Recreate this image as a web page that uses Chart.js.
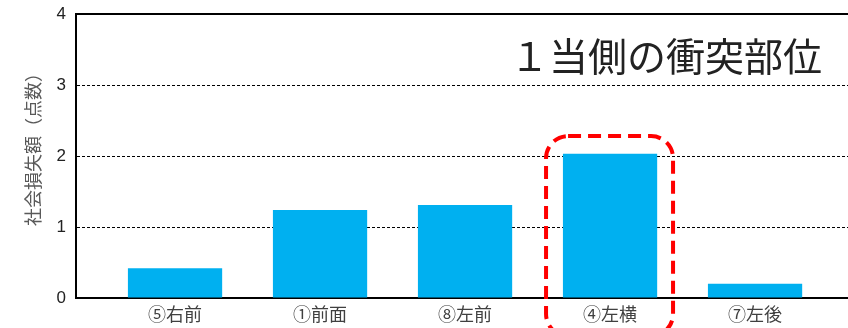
<!DOCTYPE html>
<html>
<head>
<meta charset="utf-8">
<script src="https://cdn.jsdelivr.net/npm/chart.js@4/dist/chart.umd.min.js"></script>
<style>
  html, body { margin: 0; padding: 0; background: #fff; }
  #wrap { width: 848px; height: 328px; }
</style>
</head>
<body>
<div id="wrap"><canvas id="impactChart"></canvas></div>
<script>
const positions = ["⑤右前", "①前面", "⑧左前", "④左横", "⑦左後"]
const lossScores = [0.42, 1.24, 1.31, 2.03, 0.2]
const yTicks = [0, 1, 2, 3, 4]
const chartTitle = "１当側の衝突部位"
const yTitle = "社会損失額（点数）"
const highlightIndex = 3

const jpFont = "'Noto Sans CJK JP', 'Noto Sans', sans-serif"

// headline inside the plot area plus the rotated y-axis caption
const captions = {
    id: "captions",
    afterDraw(chart) {
        const ctx = chart.ctx
        const area = chart.chartArea
        ctx.save()
        ctx.font = "39px " + jpFont
        ctx.fillStyle = "#222"
        ctx.textBaseline = "middle"
        ctx.fillText(chartTitle, area.left + 434, area.top + 42)

        ctx.translate(33, area.top + 131)
        ctx.rotate(-Math.PI / 2)
        ctx.font = "18px " + jpFont
        ctx.fillStyle = "#595959"
        ctx.textAlign = "center"
        ctx.fillText(yTitle, 0, 0)
        ctx.restore()
    }
}

// red dashed box around the highlighted position
const highlightBox = {
    id: "highlightBox",
    afterDraw(chart) {
        const ctx = chart.ctx
        const x = chart.scales.x.getPixelForValue(highlightIndex)
        const top = chart.scales.y.getPixelForValue(lossScores[highlightIndex] + 0.25)
        ctx.save()
        ctx.strokeStyle = "#ff0000"
        ctx.lineWidth = 4
        ctx.setLineDash([13, 7])
        ctx.beginPath()
        ctx.roundRect(x - 64, top, 127, 200, 22)
        ctx.stroke()
        ctx.restore()
    }
}

new Chart(document.getElementById("impactChart").getContext("2d"), {
    type: "bar",
    data: {
        datasets: [
            {
                label: yTitle,
                data: lossScores.map((v, i) => ({ x: i, y: v })),
                backgroundColor: "#00b0f0",
                borderWidth: 0,
                barPercentage: 0.65,
                categoryPercentage: 1
            }
        ]
    },
    options: {
        responsive: true,
        maintainAspectRatio: false,
        animation: false,
        layout: { padding: { left: 0, top: 14, right: 0, bottom: 0 } },
        plugins: {
            legend: { display: false },
            tooltip: { enabled: false }
        },
        scales: {
            x: {
                type: "linear",
                offset: false,
                min: -0.683,
                max: 4.641,
                afterBuildTicks: scale => { scale.ticks = positions.map((p, i) => ({ value: i })) },
                afterFit: scale => { scale.height = 30 },
                grid: { display: false, drawTicks: false, offset: false },
                border: { display: true, color: "#000", width: 2 },
                ticks: {
                    padding: 5,
                    color: "#404040",
                    font: { family: jpFont, size: 18 },
                    callback: v => positions[v] ?? ""
                }
            },
            xTop: {
                type: "linear",
                position: "top",
                offset: false,
                afterFit: scale => { scale.height = 0; scale.paddingLeft = 0; scale.paddingRight = 0 },
                grid: { display: false, drawTicks: false },
                border: { display: true, color: "#000", width: 2 },
                ticks: { display: false }
            },
            y: {
                min: 0,
                max: 4,
                afterBuildTicks: scale => { scale.ticks = yTicks.map(v => ({ value: v })) },
                afterFit: scale => { scale.width = 76; scale.paddingTop = 0; scale.paddingBottom = 0 },
                grid: {
                    drawTicks: false,
                    lineWidth: 1,
                    color: c => (c.tick && (c.tick.value === 0 || c.tick.value === 4)) ? "rgba(0,0,0,0)" : "#000"
                },
                border: { display: true, color: "#000", width: 2, dash: [3, 2] },
                ticks: {
                    padding: 10,
                    color: "#222",
                    font: { family: "'Liberation Sans', Arial, sans-serif", size: 17 }
                }
            }
        }
    },
    plugins: [captions, highlightBox]
})
</script>
</body>
</html>
